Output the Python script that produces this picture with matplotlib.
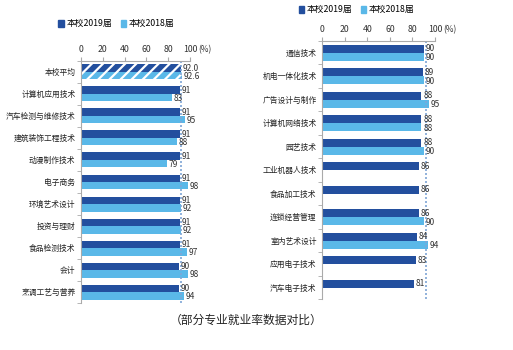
import numpy as np
import matplotlib
matplotlib.use('Agg')
import matplotlib.pyplot as plt

plt.rcParams['font.family'] = ['Noto Sans CJK SC', 'DejaVu Sans']
plt.rcParams['hatch.linewidth'] = 1.6

# left panel data
left_names = ['本校平均', '计算机应用技术', '汽车检测与维修技术', '建筑装饰工程技术', '动漫制作技术',
              '电子商务', '环境艺术设计', '投资与理财', '食品检测技术', '会计', '烹调工艺与营养']
left_2019 = [92.0, 91, 91, 91, 91, 91, 91, 91, 91, 90, 90]
left_2018 = [92.6, 83, 95, 88, 79, 98, 92, 92, 97, 98, 94]

# right panel data
right_names = ['通信技术', '机电一体化技术', '广告设计与制作', '计算机网络技术', '园艺技术',
               '工业机器人技术', '食品加工技术', '连锁经营管理', '室内艺术设计', '应用电子技术', '汽车电子技术']
right_2019 = [90, 89, 88, 88, 88, 86, 86, 86, 84, 83, 81]
right_2018 = [90, 90, 95, 88, 90, None, None, 90, 94, None, None]

avg_line = 92
dark = '#234f9e'
light = '#5ab8e8'

fig = plt.figure(figsize=(5.13, 3.5), dpi=100)


def panel(rect, names, v19, v18, hatch_first, legend_y):
    ax = fig.add_axes(rect)
    n = len(names)
    y = np.arange(n)
    h = 0.34
    for i in range(n):
        hatch = '///' if (hatch_first and i == 0) else None
        ax.barh(y[i] - h / 2, v19[i], height=h, color=dark, edgecolor='white' if hatch else 'none',
                hatch=hatch, linewidth=0)
        txt = f'{v19[i]:.1f}' if hatch else f'{v19[i]:.0f}'
        ax.text(v19[i] + 1.5, y[i] - h / 2, txt, fontsize=6, va='center', ha='left', color='#333333')
        if v18[i] is not None:
            ax.barh(y[i] + h / 2, v18[i], height=h, color=light, edgecolor='white' if hatch else 'none',
                    hatch=hatch, linewidth=0)
            txt = f'{v18[i]:.1f}' if hatch else f'{v18[i]:.0f}'
            ax.text(v18[i] + 1.5, y[i] + h / 2 + 0.05, txt, fontsize=6, va='center', ha='left', color='#333333')
    ax.axvline(avg_line, color='#7fa6d6', linestyle=(0, (1.2, 1.2)), linewidth=1.2)
    ax.set_xlim(0, 100)
    ax.set_ylim(n - 0.5, -0.5)
    ax.xaxis.tick_top()
    ax.set_xticks([0, 20, 40, 60, 80, 100])
    ax.tick_params(axis='x', labelsize=6.3, length=3, color='#aaaaaa', pad=2, labelcolor='#333333')
    ax.set_yticks(y)
    ax.set_yticklabels(names, fontsize=5.6, color='#222222')
    ax.tick_params(axis='y', length=0, pad=4)
    ax.set_yticks(np.arange(n + 1) - 0.5, minor=True)
    ax.tick_params(axis='y', which='minor', length=3, color='#aaaaaa')
    for s in ['right', 'bottom']:
        ax.spines[s].set_visible(False)
    for s in ['top', 'left']:
        ax.spines[s].set_color('#aaaaaa')
        ax.spines[s].set_linewidth(0.8)
    ax.annotate('(%)', xy=(107.5, 1), xycoords=('data', 'axes fraction'), xytext=(0, 5),
                textcoords='offset points', fontsize=6, va='bottom', ha='left', color='#333333')
    h1 = plt.Rectangle((0, 0), 1, 1, color=dark)
    h2 = plt.Rectangle((0, 0), 1, 1, color=light)
    ax.legend([h1, h2], ['本校2019届', '本校2018届'], ncol=2, frameon=False, fontsize=6.3,
              loc='lower left', bbox_to_anchor=(-0.24, legend_y), handlelength=0.6, handleheight=0.9,
              handletextpad=0.3, columnspacing=1.0, borderaxespad=0)
    return ax


axl = panel([0.158, 0.134, 0.2125, 0.692], left_names, left_2019, left_2018, True, 1.12)
axr = panel([0.628, 0.145, 0.220, 0.738], right_names, right_2019, right_2018, False, 1.09)

fig.text(0.48, 0.085, '（部分专业就业率数据对比）', fontsize=8.5, ha='center', va='center', color='#222222')

fig.savefig('out.png', dpi=100)
